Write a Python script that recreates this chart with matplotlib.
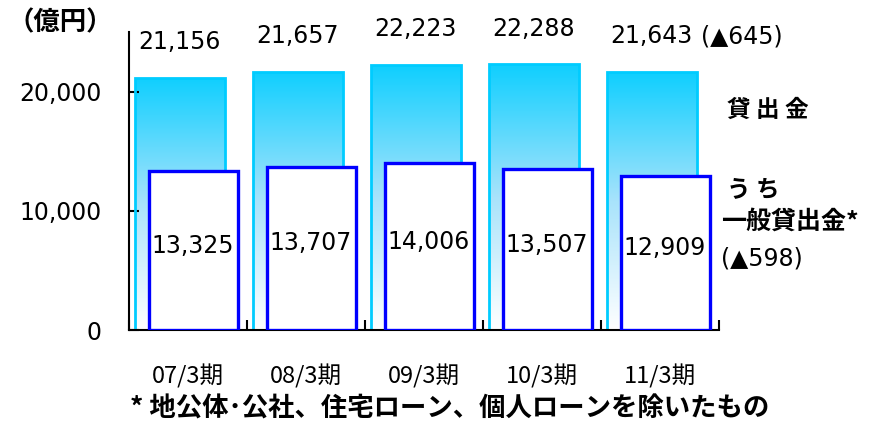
# Loan balance chart (億円), total loans vs general loans.

import numpy as np
import matplotlib.pyplot as plt
from matplotlib.colors import LinearSegmentedColormap

plt.rcParams['font.family'] = ['Noto Sans CJK JP', 'DejaVu Sans']
num_font = ['DejaVu Sans']

# --------------------------- DATA ---------------------------
periods = ['07/3期', '08/3期', '09/3期', '10/3期', '11/3期']
total_loans = [21156, 21657, 22223, 22288, 21643]
general_loans = [13325, 13707, 14006, 13507, 12909]
yticks = [0, 10000, 20000]
ytick_labels = ['0', '10,000', '20,000']

# --------------------------- FIGURE ---------------------------
fig = plt.figure(figsize=(8.78, 4.22), dpi=100)
ax = fig.add_axes([0.147, 0.218, 0.672, 0.706])

x = np.arange(len(periods))
back_w, front_w = 0.76, 0.75
back_off, front_off = -0.07, 0.045

grad = LinearSegmentedColormap.from_list('g', ['#ffffff', '#a8e3fb', '#0fcfff'])
back = ax.bar(x + back_off, total_loans, width=back_w, color='none',
              edgecolor='#00ccff', linewidth=2.0, zorder=2)
for b in back:
    x0, y0, w, h = b.get_x(), b.get_y(), b.get_width(), b.get_height()
    im = ax.imshow(np.linspace(0, 1, 256).reshape(-1, 1), cmap=grad, origin='lower',
                   extent=[x0, x0 + w, y0, y0 + h], aspect='auto', zorder=1)
    im.set_clip_path(b)

ax.bar(x + front_off, general_loans, width=front_w, color='white',
       edgecolor='#0000ff', linewidth=2.4, zorder=3)

# value labels
for i, v in enumerate(total_loans):
    ax.text(x[i] + back_off, v + 3000, f'{v:,}', ha='center', va='center',
            fontsize=17, family=num_font, zorder=5)
for i, v in enumerate(general_loans):
    ax.text(x[i] + front_off - 0.01, v * 0.53, f'{v:,}', ha='center', va='center',
            fontsize=17, family=num_font, zorder=5)

ax.text(4.35, total_loans[-1] + 3000, '(▲645)', ha='left', va='center',
        fontsize=17, family=num_font, clip_on=False)

# right-hand legend text
ax.text(4.57, 18500, '貸 出 金', ha='left', va='center', fontsize=17,
        fontweight='bold', clip_on=False)
ax.text(4.57, 11800, 'う ち', ha='left', va='center', fontsize=17,
        fontweight='bold', clip_on=False)
ax.text(4.52, 9100, '一般貸出金*', ha='left', va='center', fontsize=18,
        fontweight='bold', clip_on=False)
ax.text(4.52, 6000, '(▲598)', ha='left', va='center', fontsize=17,
        family=num_font, clip_on=False)

# axes styling
ax.set_xlim(-0.5, 4.5)
ax.set_ylim(0, 25000)
ax.set_yticks(yticks)
ax.set_yticklabels(ytick_labels, fontsize=17, family=num_font)
ax.set_xticks(np.arange(-0.5, 5.0, 1.0))
ax.set_xticklabels([])
ax.tick_params(axis='both', direction='in', length=7, width=1.5, pad=20)
ax.tick_params(axis='x', pad=0)
for s in ['top', 'right']:
    ax.spines[s].set_visible(False)
for s in ['left', 'bottom']:
    ax.spines[s].set_linewidth(1.5)

for i, p in enumerate(periods):
    ax.text(x[i], -3900, p, ha='center', va='center', fontsize=17,
            clip_on=False)

fig.text(0.008, 0.945, '（億円）', ha='left', va='center', fontsize=19, fontweight='bold')
fig.text(0.148, 0.03, '* 地公体･公社、住宅ローン、個人ローンを除いたもの', ha='left',
         va='center', fontsize=19, fontweight='bold')

fig.savefig('out.png', dpi=100)
